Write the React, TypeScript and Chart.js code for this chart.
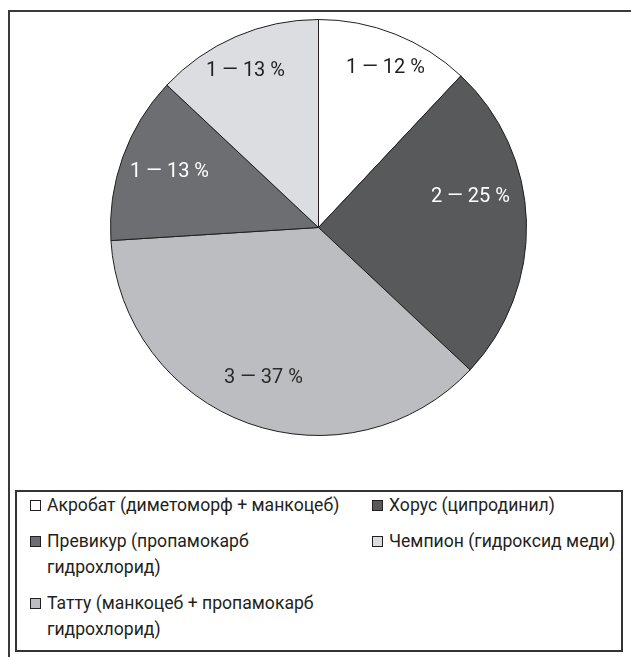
import React, { useEffect, useRef } from "react";
import { Chart, registerables } from "chart.js";

Chart.register(...registerables);

const categories = [
  "Акробат (диметоморф + манкоцеб)",
  "Хорус (ципродинил)",
  "Татту (манкоцеб + пропамокарб гидрохлорид)",
  "Превикур (пропамокарб гидрохлорид)",
  "Чемпион (гидроксид меди)",
];
const counts = [1, 2, 3, 1, 1];
const percents = [12, 25, 37, 13, 13];
const sliceColors = ["#ffffff", "#58595b", "#bcbdc0", "#6d6e71", "#dcdde0"];
const labelColors = ["#231f20", "#ffffff", "#2b2b2b", "#ffffff", "#231f20"];
const legendOrder = [0, 1, 3, 4, 2];

// label placement tweaks: [angle shift in degrees, radius fraction]
const labelPlacement: [number, number][] = [
  [1.2, 0.83],
  [-9.4, 0.745],
  [0.3, 0.77],
  [0.8, 0.765],
  [-1.6, 0.83],
];

const labelPlugin = {
  id: "sliceLabels",
  afterDatasetsDraw(chart: any) {
    const ctx = chart.ctx;
    const meta = chart.getDatasetMeta(0);
    ctx.save();
    ctx.font = '20px Roboto, "Liberation Sans", sans-serif';
    ctx.textAlign = "center";
    ctx.textBaseline = "middle";
    meta.data.forEach((arc: any, i: number) => {
      const p = arc.getProps(["x", "y", "startAngle", "endAngle", "outerRadius"], true);
      const [shift, frac] = labelPlacement[i];
      const a = (p.startAngle + p.endAngle) / 2 + (shift * Math.PI) / 180;
      const r = p.outerRadius * frac;
      ctx.fillStyle = labelColors[i];
      ctx.fillText(`${counts[i]} — ${percents[i]} %`, p.x + r * Math.cos(a), p.y + r * Math.sin(a));
    });
    ctx.restore();
  },
};

function PieChart() {
  const ref = useRef<HTMLCanvasElement>(null);
  useEffect(() => {
    if (!ref.current) return;
    const chart = new Chart(ref.current, {
      type: "pie",
      data: {
        labels: categories,
        datasets: [
          {
            data: percents,
            backgroundColor: sliceColors,
            borderColor: "#231f20",
            borderWidth: 1,
            hoverBorderWidth: 1,
            hoverOffset: 0,
          },
        ],
      },
      options: {
        animation: false,
        responsive: false,
        maintainAspectRatio: false,
        layout: { padding: 0 },
        events: [],
        plugins: {
          legend: { display: false },
          tooltip: { enabled: false },
        },
      },
      plugins: [labelPlugin],
    });
    return () => chart.destroy();
  }, []);
  return (
    <canvas
      ref={ref}
      width={417}
      height={417}
      style={{ position: "absolute", left: 110, top: 19, width: 417, height: 417 }}
    />
  );
}

export default function App() {
  return (
    <div
      style={{
        position: "fixed",
        left: 0,
        top: 0,
        width: 631,
        height: 657,
        overflow: "hidden",
        background: "#ffffff",
      }}
    >
      <div
        style={{
          position: "absolute",
          left: 8,
          top: 10,
          width: 700,
          height: 700,
          border: "2px solid #3a3a3a",
        }}
      />
      <PieChart />
      <div
        style={{
          position: "absolute",
          left: 15,
          top: 490,
          width: 604,
          height: 158,
          border: "2px solid #333333",
          boxSizing: "content-box",
          fontFamily: 'Roboto, "Liberation Sans", sans-serif',
          fontSize: 17.6,
          lineHeight: "26px",
          color: "#231f20",
        }}
      >
        <div
          style={{
            display: "grid",
            gridTemplateColumns: "342px 262px",
            rowGap: 10,
            paddingLeft: 13,
            paddingTop: 0,
          }}
        >
          {legendOrder.map((idx) => (
            <div key={idx} style={{ display: "flex", alignItems: "flex-start" }}>
              <span
                style={{
                  display: "inline-block",
                  flex: "0 0 auto",
                  width: 9,
                  height: 9,
                  marginTop: 8,
                  marginRight: 6,
                  border: "1px solid #231f20",
                  background: sliceColors[idx],
                }}
              />
              <span style={{ display: "block", maxWidth: 315 }}>{categories[idx]}</span>
            </div>
          ))}
        </div>
      </div>
    </div>
  );
}
